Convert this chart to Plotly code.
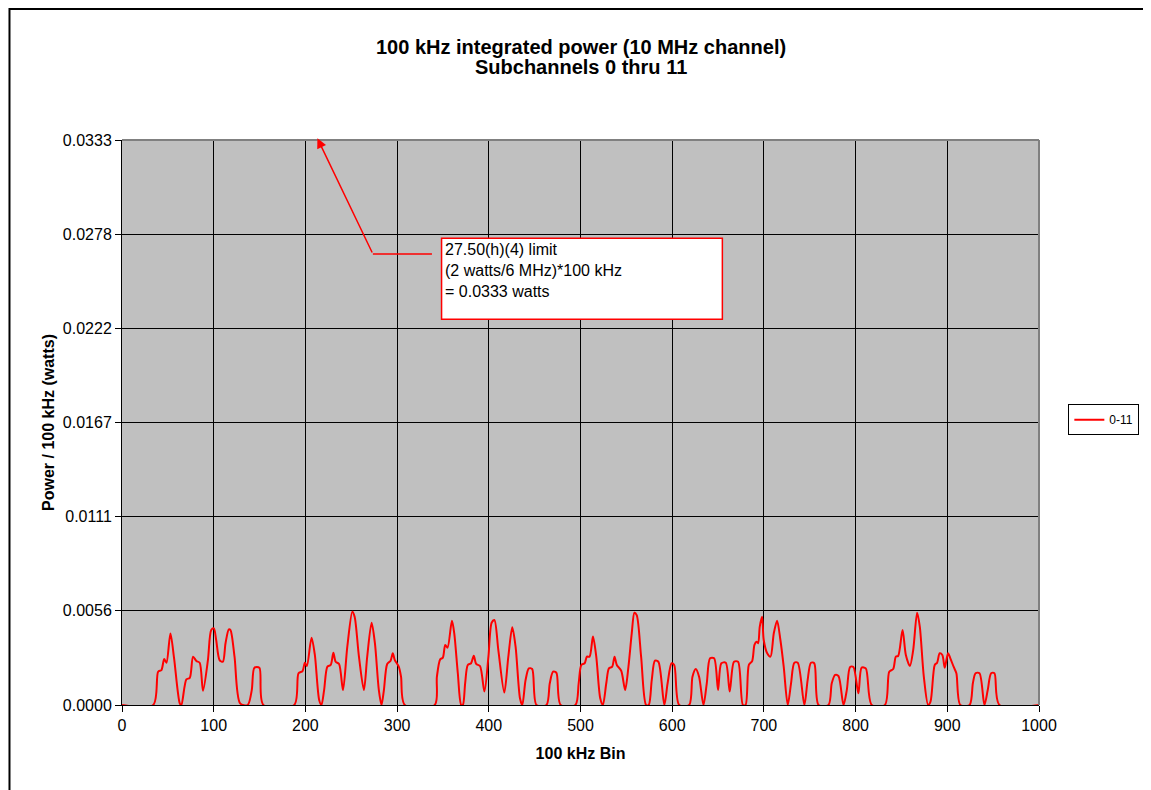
import plotly.graph_objects as go

# 100 kHz bin index and integrated power (watts)
bins = [0, 34, 39.4, 43, 46, 48.5, 52.8, 56.8, 63, 64.7, 70.2, 73.9, 77.5, 81.1, 84.7, 88.3,
        93.7, 97.3, 100.2, 102.7, 106.4, 110, 112.9, 116.5, 118.3, 122.7, 128.8, 137, 141.5,
        144.4, 149.8, 154.2, 187.8, 192.5, 196.9, 199.4, 201.6, 206.7, 210.3, 215, 217.5,
        220.4, 224, 227.6, 230.5, 233, 236.7, 241, 245.7, 251.2, 253.7, 258.4, 263.8, 267.4,
        272.2, 275.8, 280.1, 283, 285.6, 289.2, 292.9, 295.3, 297.5, 301.8, 304.3, 308.4,
        341, 343.4, 347, 349.9, 352.5, 355, 359.8, 362.3, 366.2, 369.9, 371.7, 374.2, 377.1,
        380.7, 383.6, 386.2, 390.4, 395.2, 399.6, 403.1, 406.1, 410.4, 416.9, 421.3, 425.6,
        429.2, 434, 436.5, 440.1, 443.7, 447.3, 452, 462.9, 466.5, 470.1, 473.7, 478.4, 494.4,
        498, 500.9, 504.5, 507, 509.9, 513.6, 517.2, 521.5, 524.4, 528.1, 531, 534.6, 537.1,
        539.6, 544.4, 548.7, 552.3, 555.9, 558.8, 561.3, 566.1, 571.5, 574.4, 577.7, 581.2,
        584.9, 591.4, 595, 599.3, 602.2, 607.6, 618.5, 622.1, 625.7, 629.3, 634.1, 637.7,
        641.3, 645.7, 650, 653.6, 658.4, 662.7, 667.4, 671.8, 677.1, 680, 683.6, 687.2, 689.7,
        691.9, 693.7, 695.5, 698, 699.8, 703.6, 707.2, 710.8, 714.4, 718, 721.6, 726, 729.6,
        733.2, 736.9, 744.1, 747.7, 751.3, 754.9, 759.6, 770.4, 774, 777.7, 781.3, 786.8,
        790.4, 794, 797.6, 803, 806.6, 811.1, 817.6, 832, 836.7, 841, 843.9, 846.4, 851.2,
        854.8, 859.2, 862.8, 867.1, 870, 874.4, 879.1, 881.7, 886.3, 888.9, 891.7, 894.6,
        897.2, 900.8, 903.3, 907, 909.9, 914.2, 924.3, 927.9, 930.8, 935.1, 940.5, 944.1,
        947.8, 951.4, 956.9, 1000]
power = [0, 0, 0.00196, 0.00206, 0.00271, 0.00249, 0.00422, 0.00275, 0.0001, 0, 0.00151,
         0.0016, 0.00285, 0.00259, 0.00249, 0.00084, 0.00265, 0.00442, 0.00452, 0.00383,
         0.00265, 0.00255, 0.00364, 0.00446, 0.00442, 0.00285, 0.0001, 0, 0.00088, 0.0022,
         0.0022, 0, 0, 0.00187, 0.002, 0.00249, 0.0023, 0.00397, 0.00295, 0.0003, 0, 0.00088,
         0.00226, 0.00236, 0.00308, 0.00255, 0.00242, 0.00088, 0.00344, 0.0055, 0.0052,
         0.00285, 0.00088, 0.00285, 0.00485, 0.00364, 0.00088, 0, 0.00088, 0.00242, 0.00261,
         0.00305, 0.00265, 0.00226, 0.00167, 0, 0, 0.00167, 0.00269, 0.00279, 0.00354,
         0.00338, 0.00497, 0.00423, 0.00187, 0, 0, 0.00128, 0.00236, 0.00246, 0.00291,
         0.00242, 0.0023, 0.00079, 0.00285, 0.00485, 0.00501, 0.00324, 0.00073, 0.00285,
         0.00458, 0.00344, 0.0004, 0, 0.00147, 0.00216, 0.00212, 0, 0, 0.00128, 0.00196,
         0.0019, 0, 0, 0.00128, 0.00236, 0.00246, 0.00285, 0.00285, 0.00403, 0.00285, 0.0004,
         0, 0.00128, 0.00216, 0.00226, 0.00285, 0.00236, 0.00202, 0.00088, 0.00226, 0.00423,
         0.00544, 0.0053, 0.00285, 0, 0, 0.00147, 0.00261, 0.00255, 0, 0.00128, 0.00246,
         0.00236, 0, 0, 0.00167, 0.00212, 0.00167, 0, 0.00128, 0.00275, 0.00275, 0.00088,
         0.00246, 0.00249, 0.00079, 0.00255, 0.00255, 0, 0, 0.00236, 0.00259, 0.00354,
         0.00373, 0.00364, 0.00462, 0.0052, 0.00383, 0.00305, 0.00285, 0.00423, 0.00497,
         0.00383, 0.00226, 0, 0.00128, 0.00249, 0.00249, 0, 0.00147, 0.00249, 0.00246, 0, 0,
         0.00128, 0.00177, 0.00171, 0, 0.00088, 0.00224, 0.00224, 0.00069, 0.0022, 0.00216,
         0, 0, 0.00196, 0.00212, 0.00285, 0.00289, 0.00442, 0.00295, 0.0023, 0.00324,
         0.00544, 0.00462, 0.00167, 0, 0.0002, 0.00236, 0.00249, 0.00305, 0.00295, 0.0022,
         0.00305, 0.00275, 0.00224, 0.00187, 0, 0, 0.00128, 0.00187, 0.00187, 0, 0.00088,
         0.00187, 0.00187, 0, 0]

series_name = "0-11"
title_lines = ["100 kHz integrated power (10 MHz channel)", "Subchannels 0 thru 11"]
x_ticks = [0, 100, 200, 300, 400, 500, 600, 700, 800, 900, 1000]
y_ticks = [0, 0.00555, 0.0111, 0.01665, 0.0222, 0.02775, 0.0333]
y_ticktext = ["0.0000", "0.0056", "0.0111", "0.0167", "0.0222", "0.0278", "0.0333"]

fig = go.Figure()
fig.add_trace(go.Scatter(
    x=bins, y=power, mode="lines", name=series_name,
    line=dict(color="#FF0000", width=2, shape="spline", smoothing=0.8),
))

font = dict(family="Arial, Liberation Sans, sans-serif", color="black")

W, H = 1143, 782          # page body has an 8px margin
PW, PH = 921, 565         # plot-area size in px
ML, MT = 114, 132


def px_to_paper(fx, fy):
    return (fx - ML) / PW, (MT + PH - fy) / PH


fig.update_layout(
    width=W, height=H,
    margin=dict(l=ML, r=W - ML - PW, t=MT, b=H - MT - PH),
    paper_bgcolor="white",
    plot_bgcolor="#C0C0C0",
    font=dict(size=16, **font),
    showlegend=True,
    legend=dict(
        x=1.032, y=0.505, xanchor="left", yanchor="middle",
        bordercolor="black", borderwidth=1, bgcolor="white",
        font=dict(size=12, **font),
        itemwidth=30, tracegroupgap=0,
    ),
    xaxis=dict(
        range=[0, 1000], tickvals=x_ticks, ticks="outside", ticklen=6,
        tickcolor="black", showgrid=True, gridcolor="black", gridwidth=1,
        showline=True, linecolor="black", linewidth=1, zeroline=False,
        title=dict(text="<b>100 kHz Bin</b>", font=dict(size=16, **font), standoff=14),
        tickfont=dict(size=16, **font),
    ),
    yaxis=dict(
        range=[0, 0.0333], tickvals=y_ticks, ticktext=y_ticktext, ticks="outside",
        ticklen=6, tickcolor="black", showgrid=True, gridcolor="black", gridwidth=1,
        showline=True, linecolor="black", linewidth=1, zeroline=False,
        title=dict(text="<b>Power / 100 kHz (watts)</b>", font=dict(size=16, **font), standoff=4),
        tickfont=dict(size=16, **font),
    ),
)

# chart title as two lines
for line_text, fy in zip(title_lines, [39, 59]):
    _, py = px_to_paper(0, fy)
    fig.add_annotation(x=0.5, y=py, xref="paper", yref="paper", xanchor="center",
                       yanchor="middle", showarrow=False, text=f"<b>{line_text}</b>",
                       font=dict(size=20, **font))

# plot-area border (gray top/right) and outer chart border
fig.add_shape(type="line", xref="paper", yref="paper", x0=0, x1=1, y0=1, y1=1,
              line=dict(color="#808080", width=2))
fig.add_shape(type="line", xref="paper", yref="paper", x0=1, x1=1, y0=0, y1=1,
              line=dict(color="#808080", width=2))
bx0, by1 = px_to_paper(0, 0)
fig.add_shape(type="rect", xref="paper", yref="paper",
              x0=bx0 + 1 / PW, x1=2, y0=-1, y1=by1 - 1 / PH,
              line=dict(color="black", width=2), fillcolor="rgba(0,0,0,0)")

# annotation box with arrow pointing to the limit
fig.add_shape(type="rect", xref="x", yref="y", x0=348.5, x1=654.7, y0=0.02273, y1=0.02751,
              line=dict(color="#FF0000", width=1.5), fillcolor="white")
fig.add_shape(type="line", xref="x", yref="y", x0=338, x1=273.6, y0=0.02658, y1=0.02658,
              line=dict(color="#FF0000", width=1.5))
fig.add_annotation(x=213.1, y=0.0334, ax=273.6, ay=0.02658, xref="x", yref="y",
                   axref="x", ayref="y", text="", showarrow=True, arrowhead=2,
                   arrowsize=1.3, arrowwidth=1.5, arrowcolor="#FF0000")
fig.add_annotation(x=350.5, y=0.02748, xref="x", yref="y", xanchor="left", yanchor="top",
                   align="left", showarrow=False,
                   text="27.50(h)(4) limit<br>(2 watts/6 MHz)*100 kHz<br>= 0.0333 watts",
                   font=dict(size=16, **font))

fig.write_html("out.html")
